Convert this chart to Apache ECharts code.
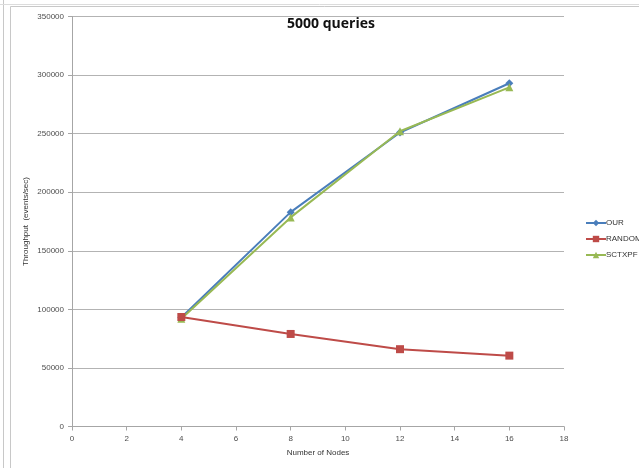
<!DOCTYPE html>
<html>
<head>
<meta charset="utf-8">
<script src="https://cdn.jsdelivr.net/npm/echarts@6/dist/echarts.min.js"></script>
<style>html,body{margin:0;padding:0;background:#fff}#c{width:639px;height:468px}</style>
</head>
<body>
<div id="c"></div>
<script>
const nodes = [4, 8, 12, 16];
const ourValues = [93000, 183000, 251000, 293000];
const randomValues = [93500, 79000, 66000, 60500];
const sctxpfValues = [92000, 178500, 252000, 289500];
const seriesNames = ['OUR', 'RANDOM', 'SCTXPF'];
const colors = ['#4a7ebb', '#be4b48', '#98b954'];
const symbols = ['diamond', 'rect', 'triangle'];
const allValues = [ourValues, randomValues, sctxpfValues];

const chart = echarts.init(document.getElementById('c'), null, {renderer: 'canvas'});
const font = 'Liberation Sans, Arial, sans-serif';
chart.setOption({
  animation: false,
  backgroundColor: '#fff',
  title: {
    text: '5000 queries', left: 326, top: 12, textAlign: 'center',
    textStyle: {fontFamily: 'Open Sans, Liberation Sans, sans-serif', fontSize: 14, fontWeight: 'bold', color: '#111'}
  },
  graphic: [
    {type: 'line', shape: {x1: 3.5, y1: 0, x2: 3.5, y2: 468}, style: {stroke: '#c8c8c8', lineWidth: 1}, silent: true},
    {type: 'line', shape: {x1: 10.5, y1: 6.5, x2: 10.5, y2: 468}, style: {stroke: '#c8c8c8', lineWidth: 1}, silent: true},
    {type: 'line', shape: {x1: 10.5, y1: 6.5, x2: 639, y2: 6.5}, style: {stroke: '#c8c8c8', lineWidth: 1}, silent: true},
    {type: 'line', shape: {x1: 0, y1: 4.5, x2: 639, y2: 4.5}, style: {stroke: '#dcdcdc', lineWidth: 1}, silent: true}
  ],
  legend: {
    orient: 'vertical', left: 580, top: 214, itemGap: 8,
    itemWidth: 20, itemHeight: 8,
    textStyle: {fontFamily: font, fontSize: 8, color: '#333', padding: [0, 0, 0, -5]},
    data: seriesNames
  },
  grid: {left: 72, right: 75, top: 16.5, bottom: 41.5, containLabel: false},
  xAxis: {
    type: 'value', min: 0, max: 18, interval: 2,
    name: 'Number of Nodes', nameLocation: 'middle', nameGap: 22,
    nameTextStyle: {fontFamily: font, fontSize: 8, color: '#333'},
    axisLine: {show: true, lineStyle: {color: '#a6a6a6'}},
    axisTick: {show: true, length: 4, lineStyle: {color: '#a6a6a6'}},
    axisLabel: {fontFamily: font, fontSize: 8, color: '#4d4d4d', margin: 8},
    splitLine: {show: false}
  },
  yAxis: {
    type: 'value', min: 0, max: 350000, interval: 50000,
    name: 'Throughput  (events/sec)', nameLocation: 'middle', nameGap: 42, nameRotate: 90,
    nameMoveOverlap: false,
    nameTextStyle: {fontFamily: font, fontSize: 8, color: '#333'},
    axisLine: {show: true, lineStyle: {color: '#a6a6a6'}},
    axisTick: {show: true, length: 4, lineStyle: {color: '#a6a6a6'}},
    axisLabel: {fontFamily: font, fontSize: 8, color: '#4d4d4d', margin: 8, formatter: v => String(v)},
    splitLine: {show: true, lineStyle: {color: '#b3b3b3', width: 1}}
  },
  series: seriesNames.map((n, i) => ({
    name: n, type: 'line',
    data: nodes.map((x, j) => [x, allValues[i][j]]),
    symbol: symbols[i], symbolSize: 8,
    showAllSymbol: true,
    lineStyle: {color: colors[i], width: 2},
    itemStyle: {color: colors[i]},
    z: i === 2 ? 3 : (i === 0 ? 2 : 4)
  }))
});
</script>
</body>
</html>
